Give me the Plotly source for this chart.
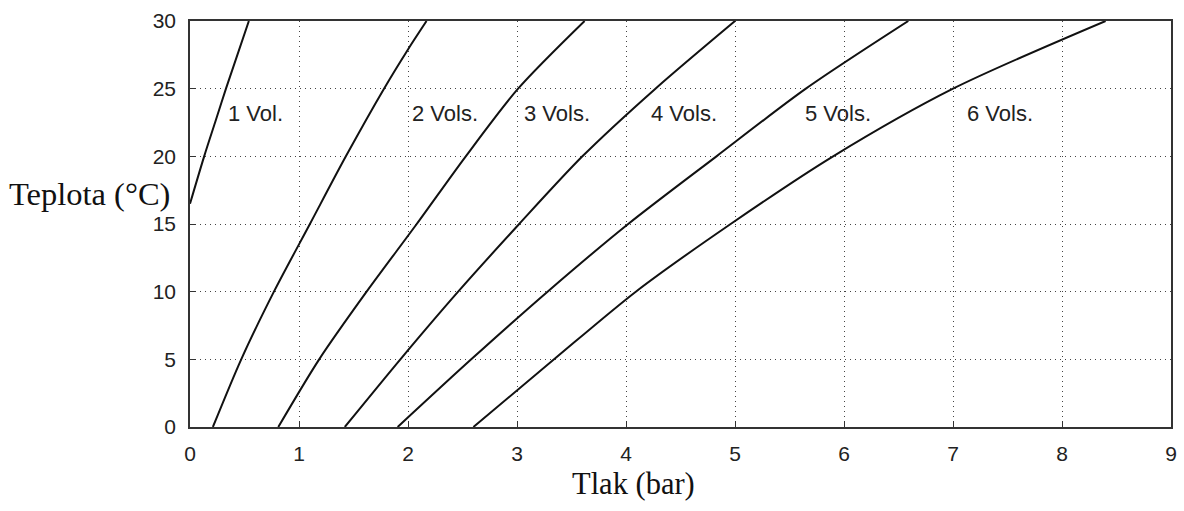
import plotly.graph_objects as go

# Pressure (bar) vs. temperature (°C) curves, one per number of volumes
vol1_p = [0.0, 0.13, 0.23, 0.33, 0.54]
vol1_t = [16.5, 20, 22.5, 25, 30]

vol2_p = [0.21, 0.47, 0.77, 1.10, 1.43, 1.78, 2.00, 2.17]
vol2_t = [0, 5, 10, 15, 20, 25, 27.9, 30]

vol3_p = [0.81, 1.185, 1.62, 2.08, 2.53, 3.01, 3.62]
vol3_t = [0, 5, 10, 15, 20, 25, 30]

vol4_p = [1.42, 1.93, 2.46, 3.02, 3.60, 4.27, 5.0]
vol4_t = [0, 5, 10, 15, 20, 25, 30]

vol5_p = [1.905, 2.58, 3.28, 4.02, 4.83, 5.65, 6.59]
vol5_t = [0, 5, 10, 15, 20, 25, 30]

vol6_p = [2.6, 3.34, 4.09, 4.96, 5.9, 7.0, 8.40]
vol6_t = [0, 5, 10, 15, 20, 25, 30]

curve_labels = ["1 Vol.", "2 Vols.", "3 Vols.", "4 Vols.", "5 Vols.", "6 Vols."]
label_p = [0.33, 2.02, 3.05, 4.21, 5.62, 7.11]
label_t = [23.2, 23.2, 23.2, 23.2, 23.2, 23.2]

x_ticks = [0, 1, 2, 3, 4, 5, 6, 7, 8, 9]
y_ticks = [0, 5, 10, 15, 20, 25, 30]

series = [
    (vol1_p, vol1_t), (vol2_p, vol2_t), (vol3_p, vol3_t),
    (vol4_p, vol4_t), (vol5_p, vol5_t), (vol6_p, vol6_t),
]

fig = go.Figure()
for (p, t), name in zip(series, curve_labels):
    fig.add_trace(go.Scatter(
        x=p, y=t, mode="lines", name=name,
        line=dict(color="#111111", width=2, shape="spline", smoothing=0.8),
        showlegend=False, hoverinfo="x+y",
    ))

tick_font = dict(family="Liberation Sans, Arial, sans-serif", size=21, color="#222222")
label_font = dict(family="Liberation Sans, Arial, sans-serif", size=22, color="#222222")

for name, p, t in zip(curve_labels, label_p, label_t):
    fig.add_annotation(
        x=p, y=t, text=name, showarrow=False,
        xanchor="left", yanchor="middle", font=label_font,
    )

fig.add_annotation(
    xref="paper", yref="paper", x=-0.187, y=0.5735, text="Teplota (°C)",
    showarrow=False, xanchor="left", yanchor="middle",
    font=dict(family="Liberation Serif, Times New Roman, serif", size=32.5, color="#111111"),
)
fig.add_annotation(
    xref="paper", yref="paper", x=0.4524, y=-0.140, text="Tlak (bar)",
    showarrow=False, xanchor="center", yanchor="middle",
    font=dict(family="Liberation Serif, Times New Roman, serif", size=30.5, color="#111111"),
)

axis_common = dict(
    showline=True, linecolor="#333333", linewidth=1.6, mirror=True,
    ticks="inside", ticklen=6, tickwidth=1.4, tickcolor="#333333",
    showgrid=True, gridcolor="#444444", gridwidth=1, griddash="1px,4px",
    zeroline=False, tickfont=tick_font,
)

fig.update_xaxes(range=[0, 9], tickvals=x_ticks, ticklabelstandoff=7, **axis_common)
fig.update_yaxes(range=[0, 30], tickvals=y_ticks, ticklabelstandoff=8, **axis_common)

fig.update_layout(
    width=1184, height=511,
    margin=dict(l=190, r=7, t=21, b=84),
    plot_bgcolor="white", paper_bgcolor="white",
)

fig.write_html("out.html")
